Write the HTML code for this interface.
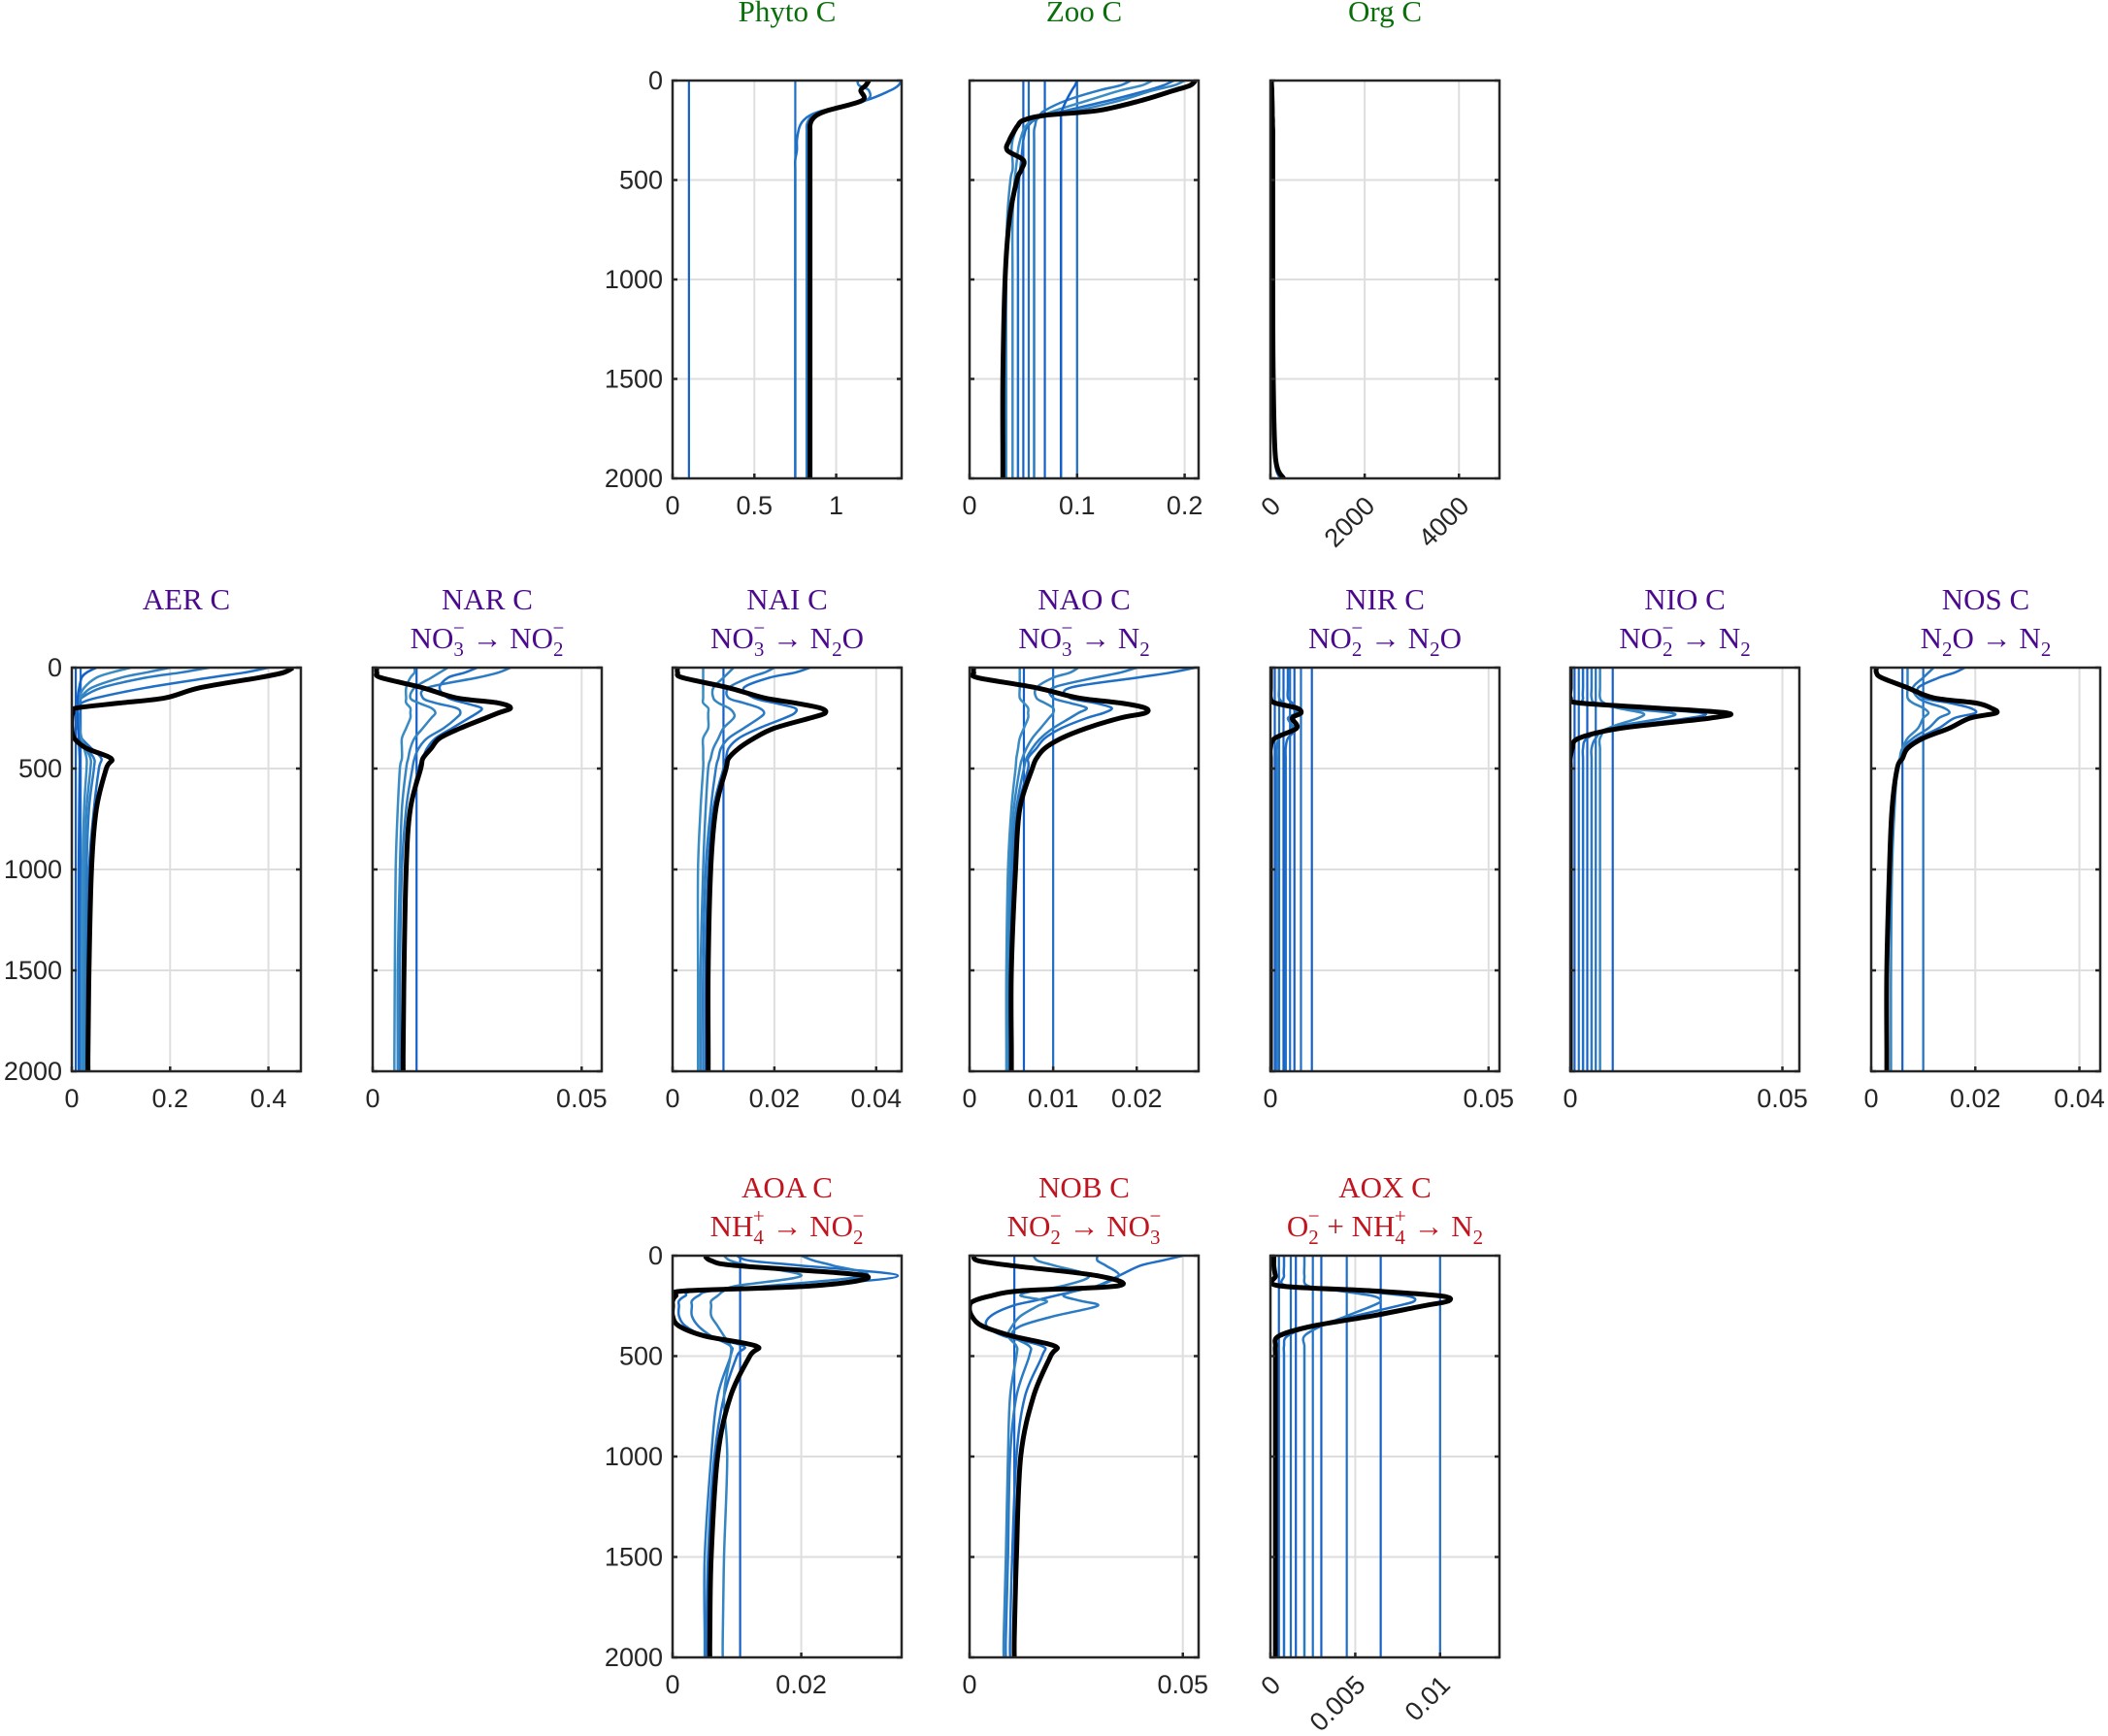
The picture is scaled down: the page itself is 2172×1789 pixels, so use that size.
<!DOCTYPE html>
<html><head><meta charset="utf-8">
<style>
html,body{margin:0;padding:0;background:#fff;}
svg{display:block;}
.tk{font-family:"Liberation Sans",sans-serif;font-size:27px;fill:#262626;}
.tt{font-family:"Liberation Serif",serif;font-size:31px;}
</style></head>
<body>
<svg id="fig" width="2172" height="1789" viewBox="0 0 2172 1789" xmlns="http://www.w3.org/2000/svg"></svg>
<script>
// ---------- data ----------
const depths = [0,25,50,100,150,175,200,225,250,300,350,400,450,500,700,1000,1500,1900,2000];
const yTicks = [0,500,1000,1500,2000];

const phytoBlack = [1.2,1.18,1.15,1.16,0.95,0.88,0.85,0.84,0.84,0.84,0.84,0.84,0.84,0.84,0.84,0.84,0.84,0.84,0.84];
const phytoBlue = [[1.4,1.38,1.33,1.18,0.92,0.84,0.8,0.78,0.77,0.76,0.76,0.75,0.75,0.75,0.75,0.75,0.75,0.75,0.75],
                   [1.13,1.14,1.2,1.18,0.93,0.86,0.83,0.82,0.82,0.82,0.82,0.82,0.82,0.82,0.82,0.82,0.82,0.82,0.82]];
const phytoConst = [0.1,0.75];

const zooBlack = [0.21,0.205,0.19,0.16,0.12,0.07,0.05,0.045,0.042,0.037,0.035,0.05,0.048,0.044,0.037,0.033,0.031,0.031,0.031];
const zooBlue = [[0.19,0.18,0.165,0.13,0.09,0.07,0.06,0.055,0.052,0.05,0.049,0.048,0.047,0.046,0.045,0.045,0.045,0.045,0.045],
                 [0.15,0.14,0.12,0.09,0.07,0.065,0.062,0.061,0.06,0.06,0.06,0.06,0.06,0.06,0.06,0.06,0.06,0.06,0.06],
                 [0.2,0.19,0.17,0.14,0.1,0.065,0.05,0.045,0.043,0.04,0.039,0.04,0.04,0.038,0.035,0.034,0.034,0.034,0.034],
                 [0.17,0.16,0.14,0.11,0.08,0.068,0.058,0.053,0.05,0.047,0.045,0.044,0.043,0.042,0.04,0.04,0.04,0.04,0.04],
                 [0.1,0.098,0.095,0.09,0.086,0.085,0.085,0.085,0.085,0.085,0.085,0.085,0.085,0.085,0.085,0.085,0.085,0.085,0.085]];
const zooConst = [0.05,0.055,0.07,0.1];

const orgBlack = [20,25,30,35,40,40,45,45,50,50,50,50,50,50,50,50,60,110,280];
const orgBlue = [[10,15,20,25,30,30,35,35,40,40,40,40,40,40,40,40,50,90,200]];
const orgConst = [];

const aerBlack = [0.45,0.43,0.38,0.26,0.19,0.1,0.01,0.002,0,0,0.005,0.03,0.08,0.07,0.05,0.04,0.035,0.033,0.033];
const aerBlue = [[0.4,0.35,0.28,0.15,0.05,0.02,0.01,0.01,0.01,0.012,0.02,0.04,0.06,0.055,0.045,0.035,0.03,0.03,0.03],
                 [0.28,0.22,0.15,0.06,0.02,0.015,0.012,0.012,0.013,0.015,0.02,0.03,0.045,0.045,0.035,0.03,0.028,0.027,0.027],
                 [0.2,0.15,0.1,0.04,0.018,0.013,0.012,0.012,0.013,0.015,0.02,0.028,0.038,0.038,0.03,0.026,0.024,0.024,0.024],
                 [0.12,0.08,0.05,0.025,0.015,0.012,0.012,0.013,0.014,0.016,0.02,0.025,0.03,0.03,0.025,0.022,0.02,0.02,0.02],
                 [0.05,0.03,0.02,0.015,0.012,0.012,0.012,0.012,0.012,0.013,0.014,0.015,0.016,0.016,0.015,0.014,0.014,0.014,0.014]];
const aerConst = [0.008,0.018];

const narBlack = [0.001,0.001,0.002,0.012,0.02,0.03,0.033,0.03,0.027,0.021,0.016,0.014,0.012,0.0115,0.009,0.008,0.0075,0.0073,0.0073];
const narBlue = [[0.025,0.022,0.018,0.016,0.018,0.022,0.026,0.025,0.023,0.019,0.015,0.013,0.012,0.011,0.009,0.008,0.0075,0.0072,0.0072],
                 [0.033,0.03,0.025,0.013,0.012,0.015,0.02,0.021,0.02,0.017,0.013,0.011,0.01,0.0095,0.008,0.007,0.0065,0.0065,0.0065],
                 [0.018,0.016,0.014,0.01,0.009,0.011,0.014,0.015,0.014,0.012,0.01,0.009,0.0085,0.008,0.007,0.0065,0.006,0.006,0.006],
                 [0.01,0.01,0.009,0.008,0.008,0.008,0.009,0.009,0.009,0.008,0.007,0.007,0.007,0.0065,0.006,0.0055,0.0053,0.0052,0.0052]];
const narConst = [0.0105];

const naiBlack = [0.001,0.001,0.002,0.011,0.018,0.024,0.029,0.03,0.027,0.02,0.016,0.013,0.011,0.0105,0.0085,0.0075,0.007,0.007,0.007];
const naiBlue = [[0.027,0.024,0.019,0.014,0.016,0.02,0.024,0.024,0.022,0.017,0.013,0.011,0.0105,0.01,0.008,0.007,0.0065,0.0065,0.0065],
                 [0.02,0.018,0.015,0.011,0.011,0.014,0.017,0.018,0.017,0.014,0.011,0.0095,0.009,0.0085,0.0075,0.0065,0.006,0.006,0.006],
                 [0.012,0.011,0.01,0.008,0.008,0.009,0.011,0.012,0.012,0.01,0.009,0.008,0.0075,0.007,0.0065,0.006,0.0055,0.0055,0.0055],
                 [0.006,0.006,0.006,0.006,0.006,0.006,0.007,0.007,0.007,0.007,0.006,0.006,0.006,0.006,0.0055,0.005,0.005,0.005,0.005]];
const naiConst = [0.01];

const naoBlack = [0.0005,0.0005,0.001,0.008,0.013,0.018,0.021,0.021,0.018,0.014,0.011,0.009,0.008,0.0075,0.006,0.0055,0.005,0.005,0.005];
const naoBlue = [[0.027,0.024,0.02,0.012,0.012,0.015,0.017,0.016,0.014,0.011,0.009,0.008,0.007,0.007,0.0058,0.0052,0.005,0.005,0.005],
                 [0.02,0.018,0.015,0.01,0.01,0.012,0.014,0.013,0.012,0.01,0.0085,0.0075,0.0068,0.0065,0.0056,0.005,0.0048,0.0048,0.0048],
                 [0.013,0.012,0.01,0.008,0.008,0.009,0.01,0.01,0.0095,0.0085,0.0075,0.0068,0.0063,0.006,0.0053,0.0048,0.0046,0.0046,0.0046],
                 [0.006,0.006,0.006,0.006,0.006,0.0065,0.007,0.007,0.007,0.0065,0.006,0.0058,0.0056,0.0055,0.005,0.0046,0.0044,0.0044,0.0044]];
const naoConst = [0.0065,0.01];

const nirBlack = [0,0,0,0,0,0.001,0.006,0.007,0.005,0.006,0.001,0,0,0,0,0,0,0,0];
const nirBlue = [[0.004,0.004,0.004,0.004,0.004,0.005,0.006,0.006,0.005,0.006,0.004,0.0035,0.0035,0.0035,0.0035,0.0035,0.0035,0.0035,0.0035],
                 [0.002,0.002,0.002,0.002,0.002,0.003,0.005,0.006,0.004,0.005,0.002,0.0015,0.0015,0.0015,0.0015,0.0015,0.0015,0.0015,0.0015]];
const nirConst = [0.001,0.002,0.003,0.0045,0.0055,0.007,0.0095];

const nioBlack = [0,0,0,0,0,0.002,0.02,0.037,0.033,0.012,0.002,0.0005,0,0,0,0,0,0,0];
const nioBlue = [[0.003,0.003,0.003,0.003,0.003,0.004,0.015,0.031,0.028,0.01,0.004,0.003,0.003,0.003,0.003,0.003,0.003,0.003,0.003],
                 [0.005,0.005,0.005,0.005,0.005,0.006,0.012,0.024,0.022,0.009,0.006,0.005,0.005,0.005,0.005,0.005,0.005,0.005,0.005],
                 [0.007,0.007,0.007,0.007,0.007,0.008,0.011,0.017,0.016,0.009,0.007,0.007,0.007,0.007,0.007,0.007,0.007,0.007,0.007]];
const nioConst = [0.001,0.002,0.004,0.006,0.01];

const nosBlack = [0.001,0.001,0.002,0.007,0.012,0.02,0.023,0.024,0.019,0.015,0.01,0.007,0.006,0.005,0.004,0.0035,0.003,0.003,0.003];
const nosBlue = [[0.018,0.016,0.013,0.009,0.01,0.015,0.019,0.02,0.016,0.013,0.009,0.0065,0.0055,0.005,0.004,0.0035,0.003,0.003,0.003],
                 [0.012,0.011,0.01,0.008,0.009,0.011,0.014,0.015,0.013,0.011,0.008,0.006,0.0055,0.005,0.004,0.0035,0.0032,0.0032,0.0032],
                 [0.007,0.007,0.007,0.007,0.007,0.008,0.01,0.011,0.01,0.009,0.007,0.006,0.0055,0.005,0.0045,0.004,0.0038,0.0038,0.0038]];
const nosConst = [0.006,0.01];

const aoaBlack = [0.005,0.006,0.01,0.03,0.022,0.002,0.0005,0,0,0,0.001,0.005,0.013,0.012,0.009,0.007,0.006,0.0058,0.0058];
const aoaBlue = [[0.01,0.012,0.02,0.035,0.02,0.004,0.002,0.001,0.001,0.001,0.002,0.005,0.011,0.01,0.008,0.0065,0.0055,0.0053,0.0053],
                 [0.02,0.022,0.025,0.03,0.015,0.006,0.004,0.003,0.003,0.003,0.004,0.006,0.009,0.009,0.007,0.006,0.005,0.005,0.005],
                 [0.008,0.009,0.012,0.02,0.01,0.008,0.007,0.006,0.006,0.006,0.007,0.008,0.009,0.009,0.008,0.0085,0.008,0.0078,0.0078]];
const aoaConst = [0.0105];

const nobBlack = [0.001,0.002,0.01,0.03,0.035,0.012,0.005,0.001,0,0.0005,0.003,0.01,0.02,0.019,0.015,0.012,0.011,0.0105,0.0105];
const nobBlue = [[0.05,0.045,0.04,0.035,0.03,0.025,0.02,0.015,0.01,0.005,0.004,0.008,0.017,0.017,0.013,0.011,0.01,0.0095,0.0095],
                 [0.03,0.03,0.032,0.035,0.03,0.025,0.022,0.026,0.03,0.02,0.012,0.01,0.014,0.014,0.011,0.0095,0.009,0.0085,0.0085],
                 [0.015,0.016,0.02,0.028,0.022,0.015,0.012,0.018,0.016,0.012,0.01,0.009,0.011,0.011,0.0095,0.009,0.0085,0.008,0.008]];
const nobConst = [0.0105];

const aoxBlack = [0.0002,0.0002,0.0002,0.0003,0.0005,0.006,0.01,0.0105,0.009,0.006,0.0025,0.0005,0.0003,0.0003,0.0003,0.0003,0.0003,0.0003,0.0003];
const aoxBlue = [[0.0008,0.0008,0.0008,0.0008,0.001,0.005,0.008,0.0085,0.0075,0.005,0.0025,0.001,0.0008,0.0008,0.0008,0.0008,0.0008,0.0008,0.0008],
                 [0.002,0.002,0.002,0.002,0.0022,0.004,0.006,0.0065,0.006,0.0045,0.003,0.002,0.002,0.002,0.002,0.002,0.002,0.002,0.002]];
const aoxConst = [0.0005,0.0012,0.0015,0.0025,0.003,0.0045,0.0065,0.01];

const xTickPhyto=[0,0.5,1], xTickZoo=[0,0.1,0.2], xTickOrg=[0,2000,4000];
const xTickAer=[0,0.2,0.4], xTickNar=[0,0.05], xTickNai=[0,0.02,0.04], xTickNao=[0,0.01,0.02];
const xTickNir=[0,0.05], xTickNio=[0,0.05], xTickNos=[0,0.02,0.04];
const xTickAoa=[0,0.02], xTickNob=[0,0.05], xTickAox=[0,0.005,0.01];

// ---------- layout ----------
const GREEN='#0a6e0a', PURPLE='#4b0a8c', RED='#c0141e';
const W=236, rows={r1:[83,493], r2:[688,1104], r3:[1294,1708]};
const SUB='font-size="21"';
const panels=[
 {id:'phyto',x:693,row:'r1',xmax:1.40,ticks:xTickPhyto,black:phytoBlack,blue:phytoBlue,cst:phytoConst,ylab:true,t1:'Phyto C',col:GREEN},
 {id:'zoo',x:999,row:'r1',xmax:0.213,ticks:xTickZoo,black:zooBlack,blue:zooBlue,cst:zooConst,t1:'Zoo C',col:GREEN},
 {id:'org',x:1309,row:'r1',xmax:4860,ticks:xTickOrg,black:orgBlack,blue:orgBlue,cst:orgConst,rot:true,t1:'Org C',col:GREEN},
 {id:'aer',x:74,row:'r2',xmax:0.466,ticks:xTickAer,black:aerBlack,blue:aerBlue,cst:aerConst,ylab:true,t1:'AER C',col:PURPLE},
 {id:'nar',x:384,row:'r2',xmax:0.0548,ticks:xTickNar,black:narBlack,blue:narBlue,cst:narConst,t1:'NAR C',t2:'NO<tspan dy="8" '+SUB+'>3</tspan><tspan dx="-11" dy="-22" '+SUB+'>−</tspan><tspan dy="14">  → NO</tspan><tspan dy="8" '+SUB+'>2</tspan><tspan dx="-11" dy="-22" '+SUB+'>−</tspan>',col:PURPLE},
 {id:'nai',x:693,row:'r2',xmax:0.045,ticks:xTickNai,black:naiBlack,blue:naiBlue,cst:naiConst,t1:'NAI C',t2:'NO<tspan dy="8" '+SUB+'>3</tspan><tspan dx="-11" dy="-22" '+SUB+'>−</tspan><tspan dy="14">  → N</tspan><tspan dy="8" '+SUB+'>2</tspan><tspan dy="-8">O</tspan>',col:PURPLE},
 {id:'nao',x:999,row:'r2',xmax:0.0274,ticks:xTickNao,black:naoBlack,blue:naoBlue,cst:naoConst,t1:'NAO C',t2:'NO<tspan dy="8" '+SUB+'>3</tspan><tspan dx="-11" dy="-22" '+SUB+'>−</tspan><tspan dy="14">  → N</tspan><tspan dy="8" '+SUB+'>2</tspan>',col:PURPLE},
 {id:'nir',x:1309,row:'r2',xmax:0.0525,ticks:xTickNir,black:nirBlack,blue:nirBlue,cst:nirConst,t1:'NIR C',t2:'NO<tspan dy="8" '+SUB+'>2</tspan><tspan dx="-11" dy="-22" '+SUB+'>−</tspan><tspan dy="14">  → N</tspan><tspan dy="8" '+SUB+'>2</tspan><tspan dy="-8">O</tspan>',col:PURPLE},
 {id:'nio',x:1618,row:'r2',xmax:0.054,ticks:xTickNio,black:nioBlack,blue:nioBlue,cst:nioConst,t1:'NIO C',t2:'NO<tspan dy="8" '+SUB+'>2</tspan><tspan dx="-11" dy="-22" '+SUB+'>−</tspan><tspan dy="14">  → N</tspan><tspan dy="8" '+SUB+'>2</tspan>',col:PURPLE},
 {id:'nos',x:1928,row:'r2',xmax:0.044,ticks:xTickNos,black:nosBlack,blue:nosBlue,cst:nosConst,t1:'NOS C',t2:'N<tspan dy="8" '+SUB+'>2</tspan><tspan dy="-8">O → N</tspan><tspan dy="8" '+SUB+'>2</tspan>',col:PURPLE},
 {id:'aoa',x:693,row:'r3',xmax:0.0356,ticks:xTickAoa,black:aoaBlack,blue:aoaBlue,cst:aoaConst,ylab:true,t1:'AOA C',t2:'NH<tspan dy="8" '+SUB+'>4</tspan><tspan dx="-11" dy="-22" '+SUB+'>+</tspan><tspan dy="14">  → NO</tspan><tspan dy="8" '+SUB+'>2</tspan><tspan dx="-11" dy="-22" '+SUB+'>−</tspan>',col:RED},
 {id:'nob',x:999,row:'r3',xmax:0.0537,ticks:xTickNob,black:nobBlack,blue:nobBlue,cst:nobConst,t1:'NOB C',t2:'NO<tspan dy="8" '+SUB+'>2</tspan><tspan dx="-11" dy="-22" '+SUB+'>−</tspan><tspan dy="14">  → NO</tspan><tspan dy="8" '+SUB+'>3</tspan><tspan dx="-11" dy="-22" '+SUB+'>−</tspan>',col:RED},
 {id:'aox',x:1309,row:'r3',xmax:0.0135,ticks:xTickAox,black:aoxBlack,blue:aoxBlue,cst:aoxConst,rot:true,t1:'AOX C',t2:'O<tspan dy="8" '+SUB+'>2</tspan><tspan dx="-11" dy="-22" '+SUB+'>−</tspan><tspan dy="14">  + NH</tspan><tspan dy="8" '+SUB+'>4</tspan><tspan dx="-11" dy="-22" '+SUB+'>+</tspan><tspan dy="14">  → N</tspan><tspan dy="8" '+SUB+'>2</tspan>',col:RED}
];
const BLUES=['#1560c8','#1f6fc6','#2a7bc4','#3585c2','#3a8cc4'];
const NS='http://www.w3.org/2000/svg';
const svg=document.getElementById('fig');
function mk(tag,attrs,parent){const e=document.createElementNS(NS,tag);for(const k in attrs)e.setAttribute(k,attrs[k]);(parent||svg).appendChild(e);return e;}
function smooth(pts){let d='M'+pts[0][0].toFixed(1)+','+pts[0][1].toFixed(1);
 for(let i=0;i<pts.length-1;i++){const p0=pts[Math.max(0,i-1)],p1=pts[i],p2=pts[i+1],p3=pts[Math.min(pts.length-1,i+2)];
  const c1=[p1[0]+(p2[0]-p0[0])/6,p1[1]+(p2[1]-p0[1])/6],c2=[p2[0]-(p3[0]-p1[0])/6,p2[1]-(p3[1]-p1[1])/6];
  d+='C'+c1[0].toFixed(1)+','+c1[1].toFixed(1)+' '+c2[0].toFixed(1)+','+c2[1].toFixed(1)+' '+p2[0].toFixed(1)+','+p2[1].toFixed(1);}
 return d;}

panels.forEach(p=>{
 const [top,bot]=rows[p.row]; const L=p.x,R=p.x+W;
 const xs=v=>L+v/p.xmax*W, ys=d=>top+d/2000*(bot-top);
 const g=mk('g',{});
 
 
 mk('rect',{x:L,y:top,width:W,height:bot-top,fill:'#fff'},g);
 yTicks.forEach(t=>{if(t>0&&t<2000){const l=mk('line',{x1:L,x2:R,y1:ys(t),y2:ys(t),stroke:'#dedede','stroke-width':2},g);}});
 p.ticks.forEach(t=>{if(t>0){const l=mk('line',{x1:xs(t),x2:xs(t),y1:top,y2:bot,stroke:'#dedede','stroke-width':2},g);}});
 const cg=mk('g',{'clip-path':'url(#clip-'+p.id+')'},g);
 const cp=mk('clipPath',{id:'clip-'+p.id},g); mk('rect',{x:L,y:top,width:W,height:bot-top},cp);
 p.cst.forEach((v,i)=>{const l=mk('line',{x1:xs(v),x2:xs(v),y1:top,y2:bot,stroke:BLUES[i%2],'stroke-width':2.2},cg);
  });
 p.blue.forEach((arr,i)=>{const pa=mk('path',{d:smooth(arr.map((v,j)=>[xs(v),ys(depths[j])])),fill:'none',stroke:BLUES[(i+1)%BLUES.length],'stroke-width':2.5},cg);
  });
 const bp=mk('path',{d:smooth(p.black.map((v,j)=>[xs(v),ys(depths[j])])),fill:'none',stroke:'#000','stroke-width':5,'stroke-linejoin':'round'},cg);
 
 
 const bx=mk('rect',{x:L,y:top,width:W,height:bot-top,fill:'none',stroke:'#262626','stroke-width':2.5},g);
 
 yTicks.forEach(t=>{mk('line',{x1:L,x2:L+5,y1:ys(t),y2:ys(t),stroke:'#262626','stroke-width':2.5},g);mk('line',{x1:R-5,x2:R,y1:ys(t),y2:ys(t),stroke:'#262626','stroke-width':2.5},g);
  if(p.ylab){const tx=mk('text',{x:L-10,y:ys(t)+9,'text-anchor':'end',class:'tk'},g);tx.textContent=t;
   }});
 p.ticks.forEach(t=>{mk('line',{x1:xs(t),x2:xs(t),y1:bot-5,y2:bot,stroke:'#262626','stroke-width':2.5},g);
  let tx;
  if(p.rot){tx=mk('text',{x:xs(t)+12,y:bot+30,'text-anchor':'end',class:'tk',transform:'rotate(-45 '+(xs(t)+12)+' '+(bot+30)+')'},g);}
  else tx=mk('text',{x:xs(t),y:bot+37,'text-anchor':'middle',class:'tk'},g);
  tx.textContent=t;  });
 const cx=L+W/2;
 const t1=mk('text',{x:cx,y:p.row==='r1'?22:top-60,'text-anchor':'middle',class:'tt',fill:p.col},g);
 t1.textContent=p.t1;  
 if(p.t2){const t2=mk('text',{x:cx,y:top-20,'text-anchor':'middle',class:'tt',fill:p.col},g);
  t2.innerHTML=p.t2;  }
});
</script>
</body></html>
